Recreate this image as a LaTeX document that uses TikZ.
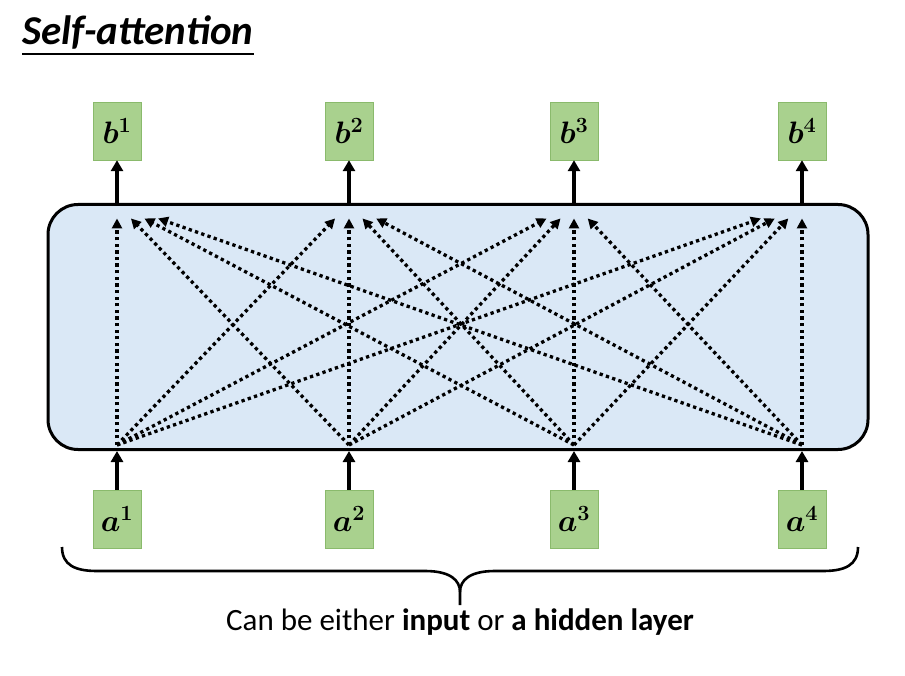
\RequirePackage{fix-cm}
\documentclass[tikz,border=0pt]{standalone}
\usepackage{amsmath,bm}
\usepackage{fontspec}
\setmainfont{Carlito}
\usepackage{xcolor}
\usetikzlibrary{calc,arrows.meta,positioning}

\definecolor{boxgreen}{RGB}{169,209,142}
\definecolor{boxedge}{RGB}{138,186,108}
\definecolor{layerblue}{RGB}{218,232,246}

\tikzset{
  vecbox/.style={draw=boxedge, fill=boxgreen, minimum width=48pt, minimum height=58pt,
                 inner sep=0pt, font=\fontsize{31}{36}\selectfont},
  feed/.style={line width=3.2pt, -{Triangle[width=12pt,length=11pt]}},
  attn/.style={line width=3.3pt, dash pattern=on 3.3pt off 3.3pt,
               -{Triangle[width=10pt,length=10pt]}},
}

\begin{document}
\begin{tikzpicture}[x=1pt, y=-1pt, line join=miter]
\useasboundingbox (0,0) rectangle (905,676);

% ---------------------------------------------------------
% Title
% ---------------------------------------------------------
\node[inner sep=0pt, anchor=base west,
      font=\fontsize{41}{48}\selectfont\bfseries\itshape] (title) at (22,45) {Self-attention};
\draw[line width=1.5pt] ([yshift=-9pt]title.base west) -- ([yshift=-9pt]title.base east);

% ---------------------------------------------------------
% Self-attention layer
% ---------------------------------------------------------
\node[draw, line width=3pt, fill=layerblue, rounded corners=30pt,
      minimum width=820pt, minimum height=245pt] (layer) at (458,327) {};

% ---------------------------------------------------------
% Inputs a^i, outputs b^i
% ---------------------------------------------------------
\foreach \x [count=\i] in {117,349,574,802} {
  \node[vecbox] (b\i) at (\x,131) {$\bm{b^{\i}}$};
  \node[vecbox] (a\i) at (\x,519) {$\bm{a^{\i}}$};
  \coordinate (out\i) at (\x,204);   % top of layer
  \coordinate (in\i) at (\x,445);    % bottom of layer
}

% dotted attention arrows, every input to every output
\foreach \j in {1,...,4}
  \foreach \i in {1,...,4}
    \draw[attn] (in\j) -- ($(in\j)!0.94!(out\i)$);

\foreach \i in {1,...,4} {
  \draw[feed] (a\i) -- (a\i |- layer.south);
  \draw[feed] (b\i |- layer.north) -- (b\i);
}

% ---------------------------------------------------------
% Brace and caption
% ---------------------------------------------------------
\draw[line width=2.6pt]
    (62,547) .. controls (62,565) and (75,571) .. (97,571) -- (425,571)
    .. controls (450,571) and (460,580) .. (460,592) -- (460,605);
\draw[line width=2.6pt]
    (858,547) .. controls (858,565) and (845,571) .. (823,571) -- (495,571)
    .. controls (470,571) and (460,580) .. (460,592);

\node[font=\fontsize{31}{36}\selectfont] (caption) at (460,622)
    {Can be either \textbf{input} or \textbf{a hidden layer}};

\end{tikzpicture}
\end{document}
